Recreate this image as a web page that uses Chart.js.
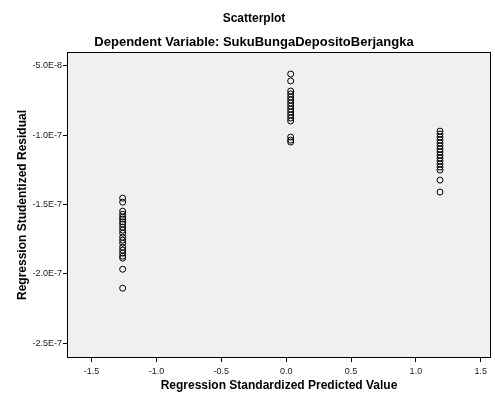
<!DOCTYPE html>
<html>
<head>
<meta charset="utf-8">
<script src="https://cdn.jsdelivr.net/npm/chart.js@4"></script>
<style>
  html, body { margin: 0; padding: 0; background: #fff; }
  #wrap { width: 495px; height: 397px; }
</style>
</head>
<body>
<div id="wrap"><canvas id="scatter"></canvas></div>
<script>
// predicted value (x) of each of the three clusters
const predictedValues = [-1.26, 0.035, 1.186];

// studentized residuals read from each column
const residualsLow = [
  -1.454e-7, -1.483e-7, -1.548e-7, -1.570e-7, -1.590e-7, -1.605e-7, -1.625e-7,
  -1.642e-7, -1.663e-7, -1.685e-7, -1.707e-7, -1.736e-7, -1.757e-7, -1.779e-7,
  -1.808e-7, -1.829e-7, -1.851e-7, -1.873e-7, -1.887e-7, -1.967e-7, -2.104e-7
];
const residualsMid = [
  -5.58e-8, -6.08e-8, -6.81e-8, -7.02e-8, -7.24e-8, -7.46e-8, -7.67e-8,
  -7.89e-8, -8.11e-8, -8.32e-8, -8.54e-8, -8.76e-8, -8.97e-8, -1.013e-7,
  -1.035e-7, -1.049e-7
];
const residualsHigh = [
  -9.70e-8, -9.91e-8, -1.013e-7, -1.035e-7, -1.056e-7, -1.078e-7, -1.100e-7,
  -1.121e-7, -1.143e-7, -1.165e-7, -1.186e-7, -1.208e-7, -1.230e-7, -1.251e-7,
  -1.324e-7, -1.410e-7
];

const xTicks = [-1.5, -1.0, -0.5, 0.0, 0.5, 1.0, 1.5];
const yTicks = [-5.0e-8, -1.0e-7, -1.5e-7, -2.0e-7, -2.5e-7];

const residualGroups = [residualsLow, residualsMid, residualsHigh];
const points = [];
residualGroups.forEach((group, i) => {
  group.forEach((r) => points.push({ x: predictedValues[i], y: r }));
});

// grey plot area with a black frame
const plotFrame = {
  id: "plotFrame",
  beforeDatasetsDraw(chart) {
    const { ctx, chartArea: a } = chart;
    ctx.save();
    ctx.fillStyle = "#f0f0f0";
    ctx.fillRect(a.left, a.top, a.right - a.left, a.bottom - a.top);
    ctx.restore();
  },
  afterDatasetsDraw(chart) {
    const { ctx, chartArea: a } = chart;
    ctx.save();
    ctx.strokeStyle = "#000";
    ctx.lineWidth = 1;
    ctx.strokeRect(a.left + 0.5, a.top + 0.5, a.right - a.left - 1, a.bottom - a.top - 1);
    ctx.restore();
  },
};

const tickFont = { family: "Liberation Sans, Arial, sans-serif", size: 9 };
const boldFont = (size) => ({ family: "Liberation Sans, Arial, sans-serif", size: size, weight: "bold" });

new Chart(document.getElementById("scatter"), {
  type: "scatter",
  data: {
    datasets: [
      {
        label: "Residuals",
        data: points,
        pointStyle: "circle",
        pointRadius: 3,
        pointHoverRadius: 3,
        borderWidth: 1,
        borderColor: "#000",
        backgroundColor: "transparent",
      },
    ],
  },
  options: {
    responsive: true,
    maintainAspectRatio: false,
    animation: false,
    layout: { padding: { left: 15, right: 2, top: 0, bottom: 0 } },
    plugins: {
      legend: { display: false },
      tooltip: { enabled: false },
      title: {
        display: true,
        text: "Scatterplot",
        color: "#000",
        font: boldFont(12),
        padding: { top: 11, bottom: 9 },
      },
      subtitle: {
        display: true,
        text: "Dependent Variable: SukuBungaDepositoBerjangka",
        color: "#000",
        font: boldFont(13),
        padding: { top: 0, bottom: 2 },
      },
    },
    scales: {
      x: {
        type: "linear",
        min: -1.689,
        max: 1.579,
        afterBuildTicks: (scale) => {
          scale.ticks = xTicks.map((v) => ({ value: v }));
        },
        afterFit: (scale) => {
          scale.height = 39;
        },
        ticks: {
          font: tickFont,
          color: "#222",
          padding: 4,
          maxRotation: 0,
          callback: (value) => value.toFixed(1),
        },
        grid: {
          drawOnChartArea: false,
          drawTicks: true,
          tickLength: 4,
          color: "#000",
        },
        border: { display: false },
        title: {
          display: true,
          text: "Regression Standardized Predicted Value",
          color: "#000",
          font: boldFont(12),
          padding: { top: 0, bottom: 4 },
        },
      },
      y: {
        type: "linear",
        min: -2.608e-7,
        max: -3.99e-8,
        afterBuildTicks: (scale) => {
          scale.ticks = yTicks.map((v) => ({ value: v }));
        },
        afterFit: (scale) => {
          scale.width = 52;
        },
        ticks: {
          font: tickFont,
          color: "#222",
          padding: 1,
          callback: (value) => value.toExponential(1).toUpperCase(),
        },
        grid: {
          drawOnChartArea: false,
          drawTicks: true,
          tickLength: 4,
          color: "#000",
        },
        border: { display: false },
        title: {
          display: true,
          text: "Regression Studentized Residual",
          color: "#000",
          font: boldFont(12),
          padding: { top: 0, bottom: 0 },
        },
      },
    },
  },
  plugins: [plotFrame],
});
</script>
</body>
</html>
